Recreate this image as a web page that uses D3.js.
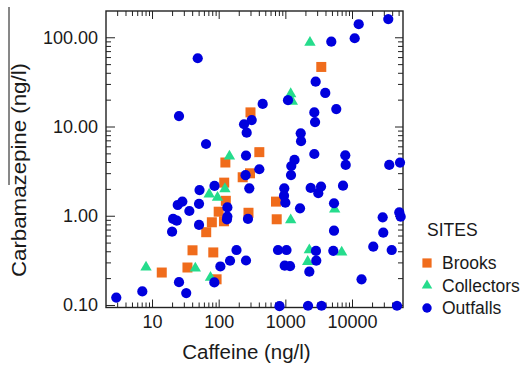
<!DOCTYPE html>
<html>
<head>
<meta charset="utf-8">
<script src="https://cdn.jsdelivr.net/npm/d3@7"></script>
<style>
  body { margin: 0; background: #fff; }
  svg { display: block; font-family: "Liberation Sans", Arial, sans-serif; }
</style>
</head>
<body>
<div id="chart"></div>
<script>
// values (ng/l)
const siteNames = ['Brooks', 'Collectors', 'Outfalls'];

const brooksCaffeine = [300, 407, 3460, 126, 295, 229, 121, 128, 100, 280, 120, 79, 65, 40.5, 83, 34, 14, 93, 724, 742];
const brooksCarbamazepine = [14.4, 5.16, 46.5, 3.95, 2.99, 2.7, 2.35, 1.47, 1.11, 1.08, 0.867, 0.845, 0.654, 0.41, 0.388, 0.263, 0.231, 0.194, 1.44, 0.913];

const collectorsCaffeine = [2340, 1203, 1271, 145, 72, 124, 96, 44.6, 8.13, 75.4, 5500, 1203, 2290, 7000, 2165];
const collectorsCarbamazepine = [87.5, 23.2, 19.1, 4.64, 1.74, 2.0, 1.6, 0.258, 0.265, 0.203, 1.18, 0.897, 0.413, 0.39, 0.306];

const outfallsCaffeine = [48.5, 25.4, 313, 240, 263, 64.6, 457, 257, 35000, 12600, 10970, 4890, 2850, 3970, 1096, 5810,
  2720, 2790, 1700, 1720, 2720, 7930, 1372, 52500, 407, 253, 86.6, 288, 51.6, 28.5, 24.3, 50.7, 135, 36.3, 135, 133,
  275, 20.7, 23.5, 50.7, 20, 185, 148, 257, 106, 86, 25.4, 7.15, 32.6, 2.91, 1228, 8040, 36200, 1216, 7330, 964, 2400,
  3430, 3120, 955, 1000, 5370, 1660, 51200, 53700, 28850, 5370, 29450, 776, 1041, 2880, 5240, 20850, 39400, 2910, 978,
  1175, 2290, 13900, 817, 2190, 3490, 47300];
const outfallsCarbamazepine = [58.2, 13.1, 11.8, 10.6, 8.53, 6.37, 17.9, 4.73, 160, 140, 97.5, 89.3, 31.8, 23.8, 19.7, 15.7,
  14.4, 11.2, 8.4, 6.84, 4.92, 4.76, 4.22, 3.94, 3.32, 2.85, 2.16, 2.03, 1.94, 1.44, 1.32, 1.36, 1.24, 1.13, 0.98, 0.908,
  0.92, 0.92, 0.88, 0.788, 0.663, 0.413, 0.313, 0.315, 0.27, 0.179, 0.18, 0.142, 0.136, 0.121, 3.61, 3.71, 3.71, 2.86, 2.17,
  2.03, 2.05, 2.12, 1.79, 1.68, 1.4, 1.38, 1.21, 1.09, 0.976, 0.96, 0.681, 0.646, 0.413, 0.413, 0.403, 0.405, 0.45, 0.413,
  0.314, 0.276, 0.272, 0.236, 0.194, 0.097, 0.098, 0.098, 0.098];

const xMajorTicks = [10, 100, 1000, 10000];
const yMajorTicks = [0.1, 1, 10, 100];

const width = 523;
const height = 365;
const plot = { left: 106, right: 403, top: 11, bottom: 307.5 };

const colors = { Brooks: '#f06c1c', Collectors: '#25dc8c', Outfalls: '#0000dd' };
const shapes = { Brooks: d3.symbolSquare, Collectors: d3.symbolTriangle, Outfalls: d3.symbolCircle };
const sizes = { Brooks: 100, Collectors: 56, Outfalls: 82 };

const series = [
  { site: 'Brooks', xs: brooksCaffeine, ys: brooksCarbamazepine },
  { site: 'Collectors', xs: collectorsCaffeine, ys: collectorsCarbamazepine },
  { site: 'Outfalls', xs: outfallsCaffeine, ys: outfallsCarbamazepine }
];

const svg = d3.select('#chart')
  .append('svg')
  .attr('width', width)
  .attr('height', height);

const x = d3.scaleLog()
  .domain([2.04, 58200])
  .range([plot.left, plot.right]);

const y = d3.scaleLog()
  .domain([0.0937, 197])
  .range([plot.bottom, plot.top]);

// minor ticks 2..9 of every decade inside the domain
const minorTicks = (scale) => {
  const [lo, hi] = scale.domain();
  const out = [];
  for (let e = Math.floor(Math.log10(lo)); e <= Math.ceil(Math.log10(hi)); e++) {
    for (let m = 2; m <= 9; m++) {
      const v = m * Math.pow(10, e);
      if (v >= lo && v <= hi) out.push(v);
    }
  }
  return out;
};

const xFmt = d3.format('d');
const yFmt = d3.format('.2f');

const styleAxis = (g) => {
  g.select('.domain').remove();
  g.selectAll('line').attr('stroke', '#222').attr('stroke-width', 1);
  g.selectAll('text').attr('fill', '#1a1a1a').style('font-size', '18px');
};

// bottom
svg.append('g').attr('transform', `translate(0,${plot.bottom})`)
  .call(d3.axisBottom(x).tickValues(minorTicks(x)).tickSize(-5).tickFormat(''))
  .call(styleAxis);
svg.append('g').attr('transform', `translate(0,${plot.bottom})`)
  .call(d3.axisBottom(x).tickValues(xMajorTicks).tickSize(-8).tickPadding(8).tickFormat(xFmt))
  .call(styleAxis);
// top
svg.append('g').attr('transform', `translate(0,${plot.top})`)
  .call(d3.axisTop(x).tickValues(minorTicks(x)).tickSize(-5).tickFormat(''))
  .call(styleAxis);
svg.append('g').attr('transform', `translate(0,${plot.top})`)
  .call(d3.axisTop(x).tickValues(xMajorTicks).tickSize(-8).tickFormat(''))
  .call(styleAxis);
// left
svg.append('g').attr('transform', `translate(${plot.left},0)`)
  .call(d3.axisLeft(y).tickValues(minorTicks(y)).tickSize(-5).tickFormat(''))
  .call(styleAxis);
svg.append('g').attr('transform', `translate(${plot.left},0)`)
  .call(d3.axisLeft(y).tickValues(yMajorTicks).tickSize(-9).tickPadding(8).tickFormat(yFmt))
  .call(styleAxis);
// right
svg.append('g').attr('transform', `translate(${plot.right},0)`)
  .call(d3.axisRight(y).tickValues(minorTicks(y)).tickSize(-5).tickFormat(''))
  .call(styleAxis);
svg.append('g').attr('transform', `translate(${plot.right},0)`)
  .call(d3.axisRight(y).tickValues(yMajorTicks).tickSize(-8).tickFormat(''))
  .call(styleAxis);

svg.append('rect')
  .attr('x', plot.left)
  .attr('y', plot.top)
  .attr('width', plot.right - plot.left)
  .attr('height', plot.bottom - plot.top)
  .attr('fill', 'none')
  .attr('stroke', '#222')
  .attr('stroke-width', 1.4);

// points
for (const s of series) {
  const pts = s.xs.map((v, i) => ({ cx: v, cy: s.ys[i] }));
  svg.append('g')
    .selectAll('path')
    .data(pts)
    .enter()
    .append('path')
    .attr('d', d3.symbol().type(shapes[s.site]).size(sizes[s.site]))
    .attr('transform', d => `translate(${x(d.cx)},${y(d.cy)})`)
    .attr('fill', colors[s.site]);
}

// axis titles
svg.append('text')
  .attr('x', (plot.left + plot.right) / 2 - 8)
  .attr('y', 359)
  .attr('text-anchor', 'middle')
  .attr('fill', '#1a1a1a')
  .style('font-size', '20.5px')
  .text('Caffeine (ng/l)');

svg.append('text')
  .attr('transform', 'translate(26,170)rotate(-90)')
  .attr('text-anchor', 'middle')
  .attr('fill', '#1a1a1a')
  .attr('textLength', 214)
  .attr('lengthAdjust', 'spacingAndGlyphs')
  .style('font-size', '20.5px')
  .text('Carbamazepine (ng/l)');

// stray rule beside the y title
svg.append('line')
  .attr('x1', 9).attr('x2', 9)
  .attr('y1', 7).attr('y2', 185)
  .attr('stroke', '#111')
  .attr('stroke-width', 1);

// legend
const legend = svg.append('g').attr('transform', 'translate(427,0)');
legend.append('text')
  .attr('x', 0)
  .attr('y', 235.5)
  .attr('fill', '#1a1a1a')
  .style('font-size', '17.5px')
  .text('SITES');

siteNames.forEach((name, i) => {
  const cy = 263 + i * 22.5;
  legend.append('path')
    .attr('d', d3.symbol().type(shapes[name]).size(sizes[name] * 0.85))
    .attr('transform', `translate(0,${cy})`)
    .attr('fill', colors[name]);
  legend.append('text')
    .attr('x', 15)
    .attr('y', cy + 6)
    .attr('fill', '#1a1a1a')
    .style('font-size', '17.5px')
    .text(name);
});
</script>
</body>
</html>
